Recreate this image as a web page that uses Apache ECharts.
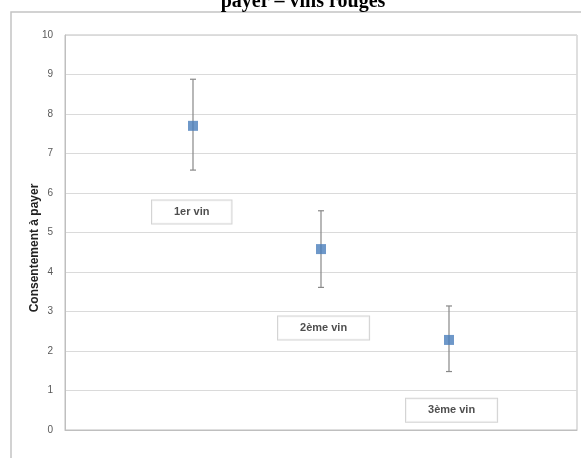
<!DOCTYPE html>
<html>
<head>
<meta charset="utf-8">
<script src="https://cdn.jsdelivr.net/npm/echarts@6/dist/echarts.min.js"></script>
<style>html,body{margin:0;padding:0;background:#fff}#c{width:581px;height:458px}</style>
</head>
<body>
<div id="c"></div>
<script>
const categories = ['1er vin', '2ème vin', '3ème vin'];
const xPositions = [1, 2, 3];
const means = [7.70, 4.58, 2.28];
const upper = [8.88, 5.55, 3.14];
const lower = [6.58, 3.61, 1.48];
const labelX = [0.99, 2.02, 3.02];
const labelY = [5.52, 2.58, 0.50];
const yTicks = [0, 1, 2, 3, 4, 5, 6, 7, 8, 9, 10];
const yAxisTitle = 'Consentement à payer';
const chartTitle = 'payer – vins rouges';

const chart = echarts.init(document.getElementById('c'));
chart.setOption({
  animation: false,
  graphic: [
    { type: 'rect', shape: { x: 11, y: 12, width: 620, height: 500 }, style: { fill: 'none', stroke: '#c4c4c4', lineWidth: 1.5 }, z: -1 },
    { type: 'text', x: 303, y: 12, style: { text: chartTitle, font: 'bold 20px "Liberation Serif", serif', fill: '#000', textAlign: 'center', textVerticalAlign: 'bottom' } },
    { type: 'text', x: 35, y: 248, rotation: Math.PI / 2, style: { text: yAxisTitle, font: 'bold 12px "Liberation Sans Narrow", "Liberation Sans", sans-serif', fill: '#222', textAlign: 'center', textVerticalAlign: 'middle' } }
  ],
  grid: { left: 65, right: 4, top: 35, bottom: 28, show: true, borderColor: '#bfbfbf', borderWidth: 1 },
  xAxis: {
    type: 'value', min: 0, max: 4,
    axisLine: { show: true, lineStyle: { color: '#bfbfbf' } },
    axisTick: { show: false }, axisLabel: { show: false }, splitLine: { show: false }
  },
  yAxis: {
    type: 'value', min: 0, max: 10, interval: 1,
    axisLine: { show: true, lineStyle: { color: '#bfbfbf' } },
    axisTick: { show: false },
    axisLabel: { fontSize: 10, color: '#595959', margin: 12, fontFamily: 'Liberation Sans, sans-serif',
      formatter: v => yTicks.includes(v) ? String(v) : '' },
    splitLine: { lineStyle: { color: '#dadada' } }
  },
  series: [
    {
      type: 'custom',
      data: xPositions.map((x, i) => [x, lower[i], upper[i]]),
      renderItem: function (params, api) {
        const lo = api.coord([api.value(0), api.value(1)]);
        const hi = api.coord([api.value(0), api.value(2)]);
        const cw = 3;
        const st = { stroke: '#888', lineWidth: 1.2 };
        return { type: 'group', children: [
          { type: 'line', shape: { x1: lo[0], y1: lo[1], x2: hi[0], y2: hi[1] }, style: st },
          { type: 'line', shape: { x1: lo[0] - cw, y1: lo[1], x2: lo[0] + cw, y2: lo[1] }, style: st },
          { type: 'line', shape: { x1: hi[0] - cw, y1: hi[1], x2: hi[0] + cw, y2: hi[1] }, style: st }
        ] };
      },
      z: 2
    },
    {
      type: 'scatter', symbol: 'rect', symbolSize: 10,
      itemStyle: { color: '#4a7ebb' },
      data: xPositions.map((x, i) => [x, means[i]]),
      z: 3
    },
    {
      type: 'scatter', symbolSize: 0, silent: true,
      data: labelX.map((x, i) => ({ value: [x, labelY[i]], name: categories[i] })),
      label: {
        show: true, position: 'inside', formatter: p => p.name,
        fontSize: 11, fontWeight: 'bold', color: '#222', fontFamily: 'Liberation Sans Narrow, Liberation Sans, sans-serif',
        backgroundColor: '#fff', borderColor: '#c8c8c8', borderWidth: 1, padding: [6, 22]
      },
      z: 4
    }
  ]
});
</script>
</body>
</html>
